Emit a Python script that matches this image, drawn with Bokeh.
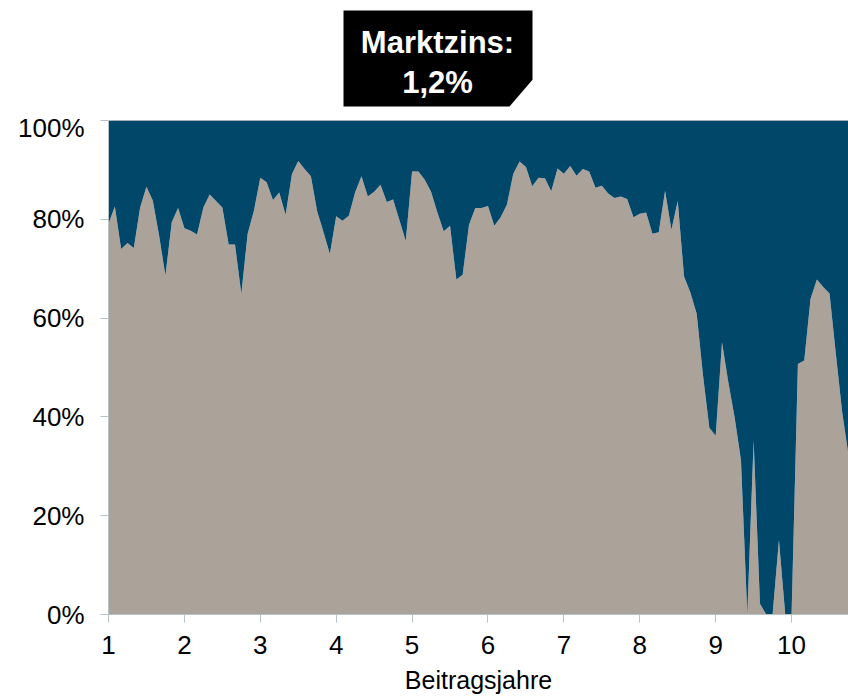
from bokeh.plotting import figure
from bokeh.layouts import column
from bokeh.models import Span, PrintfTickFormatter, FixedTicker, Range1d, ColumnDataSource
from bokeh.embed import file_html
from bokeh.resources import INLINE
from bokeh.core.properties import value

# ---- data (monthly points) ----
months = list(range(118))
anteil = [
    79.1, 82.6, 74.0, 75.2, 74.2, 82.4, 86.6, 83.8, 76.7, 68.6, 79.4, 82.3,
    78.2, 77.7, 76.9, 82.4, 85.0, 83.7, 82.4, 74.9, 74.9, 64.9, 77.1, 81.8,
    88.4, 87.5, 83.9, 85.4, 80.9, 89.1, 91.8, 90.2, 88.7, 81.6, 77.4, 73.0,
    80.6, 79.7, 80.7, 85.5, 88.7, 84.6, 85.6, 87.0, 83.5, 84.0, 79.8, 75.6,
    89.7, 89.7, 88.0, 85.6, 81.4, 77.6, 78.7, 67.8, 68.8, 78.9, 82.3, 82.3,
    82.7, 78.7, 80.4, 83.0, 89.2, 91.7, 90.6, 86.7, 88.4, 88.3, 85.7, 90.3,
    89.2, 90.8, 88.8, 90.2, 89.7, 86.4, 86.8, 85.2, 84.3, 84.6, 84.1, 80.4,
    81.1, 81.4, 77.1, 77.4, 85.8, 77.9, 83.7, 68.4, 65.2, 60.9, 48.4, 37.8,
    36.2, 55.1, 47.0, 39.9, 31.2, 0.0, 35.2, 2.2, 0.0, 0.0, 15.1, 0.0,
    0.0, 50.7, 51.4, 63.9, 67.8, 66.3, 65.0, 52.8, 41.0, 32.2,
]
x_ticks = [1, 2, 3, 4, 5, 6, 7, 8, 9, 10]
y_ticks = [0, 20, 40, 60, 80, 100]
x_label = "Beitragsjahre"
title_lines = ["Marktzins:", "1,2%"]

jahr = [1 + m / 12 for m in months]
rest = [100 - a for a in anteil]
src = ColumnDataSource(data=dict(jahr=jahr, anteil=anteil, rest=rest))

GREY = "#ABA39A"
BLUE = "#00476A"
AXIS = "#B5C2C7"
FONT = "Liberation Sans"

# ---- header with the black tag (its frame is aligned with the chart frame,
#      so its x range is expressed in page pixels 108..848) ----
h = figure(width=848, height=112, x_range=(108, 848), y_range=(0, 112),
           output_backend="svg", toolbar_location=None,
           x_axis_location=None, y_axis_location=None,
           min_border_left=108, min_border_right=0,
           min_border_top=0, min_border_bottom=0)
h.grid.visible = False
h.outline_line_color = None
h.patch([343, 532, 532, 509, 343], [102, 102, 32.7, 6, 6],
        fill_color="black", line_color=None)
h.text(x=[437, 437], y=[70, 30.5], text=title_lines,
       text_align="center", text_baseline="middle",
       text_font=value(FONT), text_font_size="31px",
       text_font_style="bold", text_color="white")

# ---- main chart ----
x0, x1 = 1, 1 + months[-1] / 12
p = figure(width=848, height=585,
           x_range=Range1d(x0, x1), y_range=Range1d(0, 100),
           output_backend="svg", toolbar_location=None,
           min_border_left=108, min_border_right=0,
           min_border_top=8, min_border_bottom=83)
p.varea_stack(stackers=["anteil", "rest"], x="jahr", source=src,
              color=[GREY, BLUE])
p.add_layout(Span(location=100, dimension="width", line_color="#8E8E8E",
                  line_width=1))

p.grid.visible = False
p.outline_line_color = None

p.xaxis.ticker = FixedTicker(ticks=x_ticks)
p.yaxis.ticker = FixedTicker(ticks=y_ticks)
p.yaxis.formatter = PrintfTickFormatter(format="%d%%")
for ax in (p.xaxis, p.yaxis):
    ax.axis_line_color = AXIS
    ax.major_tick_line_color = AXIS
    ax.minor_tick_line_color = None
    ax.major_tick_in = 0
    ax.major_tick_out = 8
    ax.major_label_text_font = FONT
    ax.major_label_text_font_size = "26px"
    ax.major_label_text_color = "black"
p.yaxis.major_label_standoff = 16
p.xaxis.major_label_standoff = 13
p.xaxis.axis_label = x_label
p.xaxis.axis_label_text_font = FONT
p.xaxis.axis_label_text_font_size = "25px"
p.xaxis.axis_label_text_font_style = "normal"
p.xaxis.axis_label_text_color = "black"
p.xaxis.axis_label_standoff = 9

layout = column(h, p, spacing=0)
open("out.html", "w").write(file_html(layout, INLINE))
